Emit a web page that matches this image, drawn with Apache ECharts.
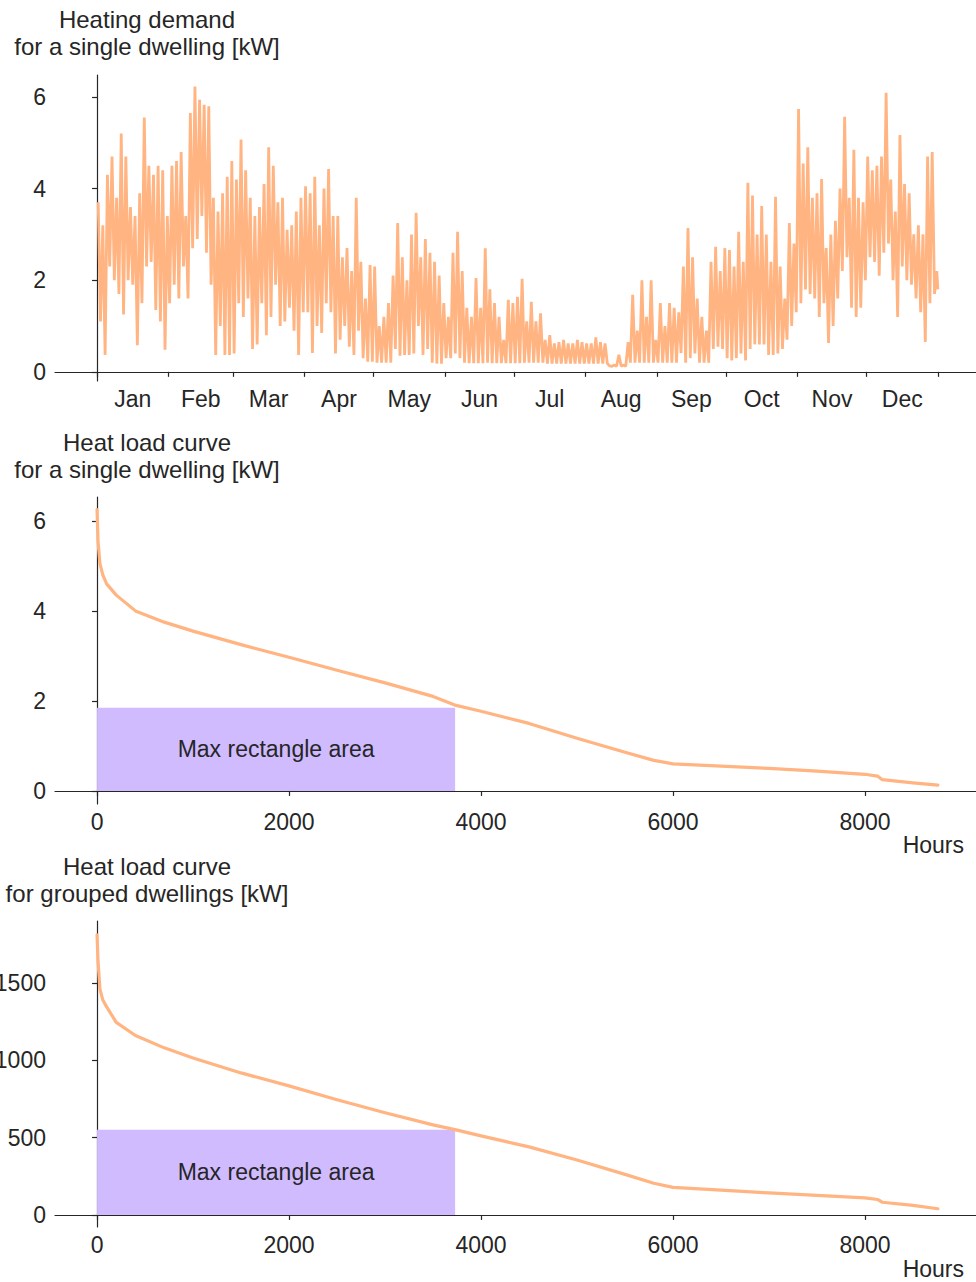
<!DOCTYPE html>
<html>
<head>
<meta charset="utf-8">
<title>Heating demand</title>
<script src="https://cdn.jsdelivr.net/npm/echarts@6.0.0/dist/echarts.min.js"></script>
<style>
  html, body { margin: 0; padding: 0; background: #fff; }
  #chart { width: 976px; height: 1282px; }
</style>
</head>
<body>
<div id="chart"></div>
<script>
const demandHigh = [
  3.7, 3.2, 4.3, 4.7, 3.8, 5.2, 4.7, 3.6, 3.4, 3.9, 5.55, 4.5, 4.3, 4.5, 4.4, 3.4,
  4.5, 4.6, 4.8, 3.4, 5.65, 6.23, 5.94, 5.83, 5.8, 3.8, 3.5, 3.9, 4.26, 4.6,
  4.2, 5.07, 4.4, 3.8, 3.4, 3.6, 4.1, 4.9, 4.5, 3.7, 3.8, 3.1, 3.2, 3.5, 3.8,
  4.05, 3.9, 4.26, 3.2, 4.0, 4.43, 3.4, 3.4, 2.5, 2.7, 2.2, 3.8, 2.4, 1.6, 2.33,
  2.3, 1.0, 1.2, 1.5, 2.1, 3.25, 2.5, 2.0, 3.0, 3.47, 2.5, 2.9, 2.6, 2.4, 2.1,
  1.5, 1.2, 2.6, 3.06, 2.2, 1.4, 1.2, 2.05, 1.4, 2.7, 1.8, 1.5, 1.2, 0.7, 1.57, 1.5,
  1.64, 2.03, 1.1, 1.53, 1.1, 1.28, 0.7, 0.8, 0.62, 0.65, 0.7, 0.62, 0.62, 0.7, 0.65, 0.62, 0.62, 0.75, 0.65, 0.62,
  0.13, 0.15, 0.37, 0.15, 0.65, 1.68, 0.9, 2.0, 1.2, 2.0, 0.7, 1.5, 1.0, 1.5, 1.4, 1.3, 2.3, 3.14, 2.5, 1.6, 1.2, 0.9, 2.4, 2.73, 2.2, 2.7,
  2.66, 2.3, 3.06, 2.4, 4.13, 3.85, 3.0, 3.62, 3.0, 2.4, 3.82, 2.3, 1.6, 3.25, 2.8,
  5.74, 4.55, 4.9, 3.8, 3.9, 4.21, 2.7, 3.0, 3.3, 4.0, 5.57, 3.8, 4.85, 3.8, 3.7,
  4.7, 4.4, 4.5, 4.7, 6.09, 4.2, 3.5, 5.17, 4.1, 3.9, 3.0, 3.2, 3.0, 4.7, 4.8, 2.2
]
const demandLow = [
  1.1, 0.37, 2.3, 2.0, 1.7, 1.25, 2.0, 1.9, 0.58, 1.5, 2.3, 2.4, 1.35, 1.1, 0.48, 1.5,
  1.9, 1.6, 2.3, 1.6, 2.7, 2.9, 3.4, 2.6, 1.9, 0.37, 1.0, 0.37, 0.37, 0.4,
  1.5, 1.2, 1.6, 0.5, 0.6, 1.5, 0.8, 1.2, 1.9, 1.0, 1.1, 1.4, 0.9, 0.37, 1.3,
  1.3, 0.41, 1.0, 0.85, 1.5, 1.3, 0.4, 0.7, 1.0, 0.55, 0.37, 0.9, 0.3, 0.22, 0.22,
  0.2, 0.2, 0.2, 0.2, 0.5, 0.35, 0.37, 0.37, 0.4, 1.0, 0.37, 0.5, 0.2, 0.18, 0.18,
  0.3, 0.3, 0.4, 0.3, 0.2, 0.19, 0.19, 0.19, 0.19, 0.2, 0.19, 0.19, 0.19, 0.19, 0.19, 0.19,
  0.19, 0.2, 0.2, 0.2, 0.2, 0.2, 0.18, 0.18, 0.18, 0.18, 0.18, 0.18, 0.18, 0.18, 0.18, 0.18, 0.18, 0.18, 0.18, 0.18,
  0.12, 0.12, 0.12, 0.12, 0.2, 0.2, 0.2, 0.2, 0.2, 0.2, 0.2, 0.2, 0.2, 0.2, 0.2, 0.41, 0.2, 0.3, 0.4, 0.2, 0.2, 0.2, 0.5, 0.55, 0.5, 0.3,
  0.25, 0.3, 0.4, 0.25, 0.5, 0.6, 0.6, 0.6, 0.37, 0.37, 0.4, 0.5, 0.7, 1.0, 1.3,
  1.5, 1.8, 1.7, 1.6, 1.2, 1.5, 0.63, 1.0, 1.6, 2.2, 2.5, 1.4, 1.2, 1.4, 2.0,
  2.5, 2.4, 2.1, 2.6, 2.8, 2.0, 1.2, 2.3, 2.0, 1.9, 1.6, 1.3, 0.65, 1.5, 1.7, 1.8
]
const blockHours = 48

const monthNames = ['Jan', 'Feb', 'Mar', 'Apr', 'May', 'Jun', 'Jul', 'Aug', 'Sep', 'Oct', 'Nov', 'Dec']
const monthStartHours = [0, 744, 1416, 2160, 2880, 3624, 4344, 5088, 5832, 6552, 7296, 8016, 8760]

// sorted load curves
const loadHours = [0, 10, 30, 60, 100, 200, 400, 700, 1000, 1500, 2000, 2500, 3000, 3500, 3740,
  4000, 4500, 5000, 5500, 5800, 6000, 6500, 7000, 7500, 8000, 8130, 8180, 8500, 8759]
const singleLoad = [6.25, 5.55, 5.05, 4.8, 4.6, 4.35, 4.0, 3.75, 3.55, 3.25, 2.97, 2.68, 2.4, 2.1, 1.9,
  1.77, 1.5, 1.17, 0.86, 0.68, 0.6, 0.55, 0.5, 0.44, 0.37, 0.33, 0.25, 0.18, 0.13]
const groupedLoad = [1810, 1640, 1460, 1390, 1345, 1245, 1160, 1080, 1015, 918, 834, 745, 660, 582, 550,
  511, 440, 355, 262, 205, 178, 160, 142, 127, 110, 100, 82, 62, 40]

// max rectangle under each curve
const rectHours = 3730
const rectSingleKw = 1.85
const rectGroupedKw = 550

const hourTicks = [0, 2000, 4000, 6000, 8000]
const singleTicks = [0, 2, 4, 6]
const groupedTicks = [0, 500, 1000, 1500]

const ink = '#262626'
const orange = '#ffb482'
const lavender = '#d0bbff'
const font = 'Liberation Sans, Arial, sans-serif'

const monthMids = monthNames.map((m, i) => (monthStartHours[i] + monthStartHours[i + 1]) / 2)

const demandData = []
demandHigh.forEach((hi, i) => {
  demandData.push([i * blockHours + 12, hi])
  demandData.push([Math.min(i * blockHours + 36, 8759), demandLow[i]])
})

const chart = echarts.init(document.getElementById('chart'), null, { renderer: 'svg' })

const textStyle = { fontFamily: font, fontSize: 23, color: ink }

const xAxisBase = (gridIndex, tickValues, labelValues, formatter, name) => ({
  type: 'value',
  gridIndex,
  min: -438,
  max: 9198,
  name,
  nameLocation: 'end',
  nameGap: -16,
  nameTextStyle: { ...textStyle, align: 'right', verticalAlign: 'top', padding: [43, 0, 0, 0] },
  axisLine: { show: true, lineStyle: { color: ink, width: 1.2 } },
  axisTick: { show: true, length: 5, customValues: tickValues, lineStyle: { color: ink, width: 1.2 } },
  axisLabel: { ...textStyle, margin: 6, customValues: labelValues, formatter },
  splitLine: { show: false }
})

const yAxisBase = (gridIndex, min, max, ticks) => ({
  type: 'value',
  gridIndex,
  min,
  max,
  axisLine: { show: true, lineStyle: { color: ink, width: 1.2 } },
  axisTick: { show: true, length: 5, customValues: ticks, lineStyle: { color: ink, width: 1.2 } },
  axisLabel: { ...textStyle, margin: 9, customValues: ticks, formatter: v => String(v) },
  splitLine: { show: false }
})

const titleBase = (text, top) => ({
  text,
  left: 147,
  top,
  padding: 0,
  textAlign: 'center',
  textStyle: { ...textStyle, fontSize: 24, fontWeight: 'normal', lineHeight: 27 }
})

const rectLabel = { show: true, position: 'inside', formatter: 'Max rectangle area', ...textStyle }

const gridBase = (top, height) => ({ left: 55, right: -4, top, height, outerBoundsMode: 'none', containLabel: false })

const curveSeries = (axisIndex, values, rectKw) => ({
  type: 'line',
  xAxisIndex: axisIndex,
  yAxisIndex: axisIndex,
  data: loadHours.map((h, i) => [h, values[i]]),
  showSymbol: false,
  lineStyle: { color: orange, width: 3.2, join: 'round', cap: 'round' },
  silent: true,
  z: 3,
  markArea: {
    silent: true,
    itemStyle: { color: lavender, opacity: 1 },
    label: rectLabel,
    data: [[{ xAxis: 0, yAxis: 0 }, { xAxis: rectHours, yAxis: rectKw }]]
  }
})

chart.setOption({
  animation: false,
  backgroundColor: '#fff',
  title: [
    titleBase('Heating demand\nfor a single dwelling [kW]', 6),
    titleBase('Heat load curve\nfor a single dwelling [kW]', 429),
    titleBase('Heat load curve\nfor grouped dwellings [kW]', 853)
  ],
  grid: [gridBase(75, 306), gridBase(497, 307), gridBase(921, 306)],
  xAxis: [
    xAxisBase(0, monthStartHours, monthMids, v => monthNames[monthMids.indexOf(v)] || ''),
    xAxisBase(1, hourTicks, hourTicks, v => String(v), 'Hours'),
    xAxisBase(2, hourTicks, hourTicks, v => String(v), 'Hours')
  ],
  yAxis: [
    yAxisBase(0, -0.2, 6.48, singleTicks),
    yAxisBase(1, -0.29, 6.53, singleTicks),
    yAxisBase(2, -78, 1900, groupedTicks)
  ],
  series: [
    {
      type: 'line',
      xAxisIndex: 0,
      yAxisIndex: 0,
      data: demandData,
      showSymbol: false,
      sampling: null,
      lineStyle: { color: orange, width: 2.8 },
      silent: true
    },
    curveSeries(1, singleLoad, rectSingleKw),
    curveSeries(2, groupedLoad, rectGroupedKw)
  ]
})
</script>
</body>
</html>
